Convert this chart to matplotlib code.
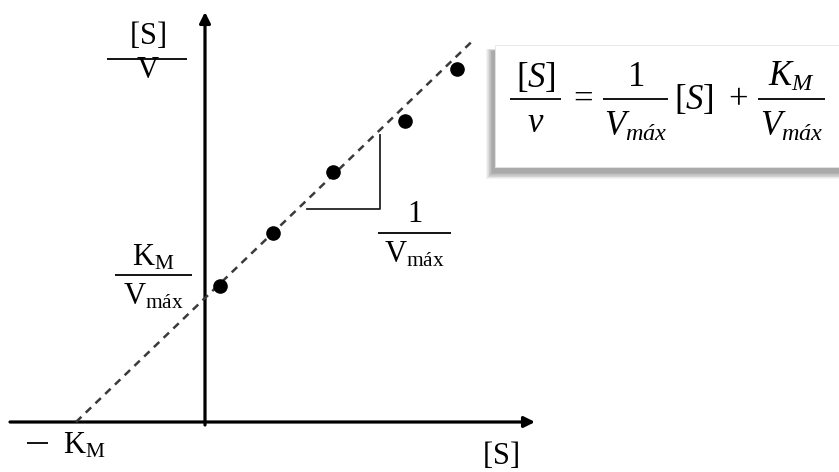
import matplotlib
matplotlib.use("Agg")
import matplotlib.pyplot as plt
from matplotlib.patches import Rectangle
import numpy as np

plt.rcParams['mathtext.fontset'] = 'custom'
plt.rcParams['mathtext.rm'] = 'Liberation Serif'
plt.rcParams['mathtext.it'] = 'Liberation Serif:italic'
plt.rcParams['mathtext.bf'] = 'Liberation Serif:bold'
plt.rcParams['font.family'] = ['Liberation Serif', 'DejaVu Serif']

# Hanes-Woolf plot: [S]/v against [S]
s_vals = [15, 68, 128, 200, 252]
ratio_vals = [136, 189, 250, 301, 353]
KM = 129.0
inv_vmax = 0.961
line_x_end = 268

W, H = 839, 472
fig = plt.figure(figsize=(W / 100, H / 100), dpi=100)
ax = fig.add_axes([0, 0, 1, 1])
ax.set_xlim(-205, W - 205)
ax.set_ylim(422 - H, 422)
ax.axis('off')

# coordinate axes with arrow heads
arrow = dict(arrowstyle='-|>', lw=2.3, color='black', mutation_scale=16,
             shrinkA=0, shrinkB=0)
ax.annotate('', xy=(330, 0), xytext=(-195, 0), arrowprops=arrow)
ax.annotate('', xy=(0, 410), xytext=(0, -3), arrowprops=arrow)

# fitted straight line through the x-intercept -KM
xl = np.array([-KM, line_x_end])
ax.plot(xl, inv_vmax * (xl + KM), ls=(0, (3, 2.4)), lw=1.8, color='#3a3a3a',
        zorder=3)

# measured points
ax.plot(s_vals, ratio_vals, 'o', ms=9.5, color='black', zorder=4)

# slope triangle
tx0, tx1 = 102, 175
ty = inv_vmax * (tx0 + KM) - 9
ax.plot([tx0, tx1, tx1], [ty, ty, inv_vmax * (tx1 + KM) - 5],
        color='#222222', lw=1.3, zorder=3)

LBL = 22


def frac(xc, ybar, half, num, den, size, dy_num, dy_den, lw=1.3):
    ax.plot([xc - half, xc + half], [ybar, ybar], color='black', lw=lw,
            solid_capstyle='butt')
    ax.text(xc, ybar + dy_num, num, ha='center', va='center', fontsize=size)
    ax.text(xc, ybar - dy_den, den, ha='center', va='center', fontsize=size)


# axis and line labels
frac(-57.5, 363, 40, r'$\mathrm{[S]}$', r'$\mathrm{V}$', LBL, 23, 12)
frac(-51.5, 147, 38.5, r'$\mathrm{K_M}$', r'$\mathrm{V_{máx}}$', LBL, 17, 22)
frac(209.5, 189, 36.5, r'$\mathrm{1}$', r'$\mathrm{V_{máx}}$', LBL, 18, 22)
ax.plot([-178, -157], [-21, -21], color='black', lw=1.3,
        solid_capstyle='butt')
ax.text(-121, -24, r'$\mathrm{K_M}$', ha='center', va='center',
        fontsize=LBL)
ax.text(295, -34, r'$\mathrm{[S]}$', ha='center', va='center', fontsize=LBL)

# equation box with soft drop shadow
bx0, bx1, by0, by1 = 290, 650, 255, 377
for i in range(9):
    g = 8 - i
    ax.add_patch(Rectangle((bx0 - 3 - g * 0.7, by0 - 6 - g * 0.7),
                           bx1 - bx0 + 1.4 * g * 0.7,
                           by1 - by0 + 1.4 * g * 0.7,
                           color='#555555', alpha=0.07, lw=0, zorder=5))
ax.add_patch(Rectangle((bx0, by0), bx1 - bx0, by1 - by0, facecolor='white',
                       edgecolor='#e4e4e4', lw=0.6, zorder=6))

BOX = 25
ybar = 323


def bfrac(xc, half, num, den, dy_num=20, dy_den=27):
    ax.plot([xc - half, xc + half], [ybar, ybar], color='black', lw=1.3,
            zorder=7, solid_capstyle='butt')
    ax.text(xc, ybar + dy_num, num, ha='center', va='center', fontsize=BOX,
            zorder=7)
    ax.text(xc, ybar - dy_den, den, ha='center', va='center', fontsize=BOX,
            zorder=7)


bfrac(330.5, 25.5, r'$[S]$', r'$v$', 21, 24)
ax.text(375, ybar, r'$=$', ha='center', va='center', fontsize=BOX, zorder=7)
bfrac(430.5, 32.5, r'$1$', r'$V_{máx}$', 22, 28)
ax.text(489, ybar - 1, r'$[S]$', ha='center', va='center', fontsize=BOX,
        zorder=7)
ax.text(533, ybar, r'$+$', ha='center', va='center', fontsize=BOX, zorder=7)
bfrac(586.5, 33.5, r'$K_M$', r'$V_{máx}$', 22, 28)

fig.savefig('out.png', dpi=100, facecolor='white')
